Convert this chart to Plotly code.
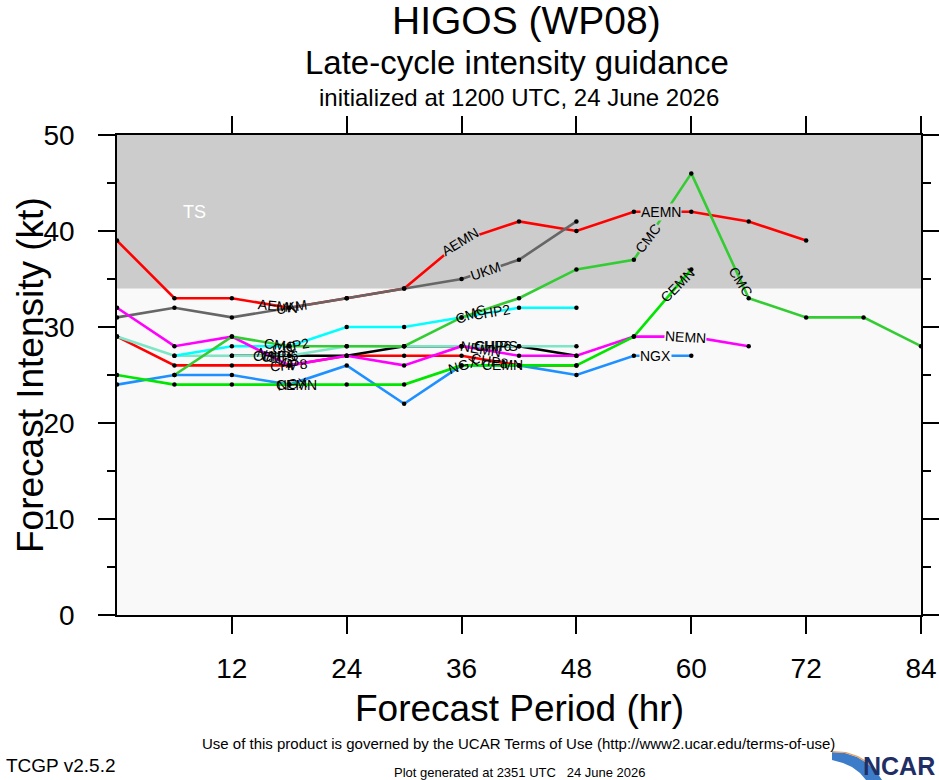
import math
import plotly.graph_objects as go

# ---------------- data ----------------
hours = [0, 6, 12, 18, 24, 30, 36, 42, 48, 54, 60, 66, 72, 78, 84]
N = None
AEMN  = [39, 33, 33, 32, 33, 34, 39, 41, 40, 42, 42, 41, 39, N, N]
UKM   = [31, 32, 31, 32, 33, 34, 35, 37, 41, N, N, N, N, N, N]
CHP8  = [29, 26, 26, 26, 27, 27, 27, 26, 26, N, N, N, N, N, N]
CHIPS = [N, N, 27, 27, 27, 28, 28, 28, 27, N, N, N, N, N, N]
CHP6  = [29, 27, 27, 27, 28, 28, 28, 28, 28, N, N, N, N, N, N]
CHP2  = [N, 27, 28, 28, 30, 30, 31, 32, 32, N, N, N, N, N, N]
NEMN  = [32, 28, 29, 26, 27, 26, 28, 27, 27, 29, 29, 28, N, N, N]
NGX   = [24, 25, 25, 24, 26, 22, 26, 26, 25, 27, 27, N, N, N, N]
CEMN  = [25, 24, 24, 24, 24, 24, 26, 26, 26, 29, 36, N, N, N, N]
CMC   = [N, 25, 29, 28, 28, 28, 31, 33, 36, 37, 46, 33, 31, 31, 28]

series_names = ["AEMN", "UKM", "CHP8", "CHIPS", "CHP6", "CHP2", "NEMN", "NGX", "CEMN", "CMC"]
series_vals = [AEMN, UKM, CHP8, CHIPS, CHP6, CHP2, NEMN, NGX, CEMN, CMC]
series_colors = ["#ff0000", "#666666", "#ff0000", "#000000", "#7de6c6",
                 "#00ffff", "#ff00ff", "#1e90ff", "#00e600", "#33cc33"]

# label placements along the lines (forecast hour, break line under label)
label_hours = {
    "AEMN": [(16.8, False), (35.8, True), (56.8, True)],
    "UKM": [(18.2, False), (38.5, True)],
    "CMC": [(17.0, False), (37.0, False), (55.5, True), (65.2, False)],
    "CEMN": [(18.8, False), (40.3, False), (58.6, False)],
    "NGX": [(18.3, False), (36.2, False), (56.3, True)],
    "NEMN": [(16.7, False), (38.0, False), (59.4, True)],
    "CHP2": [(18.2, False), (39.2, False)],
    "CHP6": [(17.0, False), (39.3, False)],
    "CHIPS": [(16.5, False), (39.6, False)],
    "CHP8": [(18.0, False), (39.0, False)],
}

x_ticks = [12, 24, 36, 48, 60, 72, 84]
y_ticks = [0, 10, 20, 30, 40, 50]
ts_threshold = 34

# ---------------- layout geometry ----------------
W, H = 939, 780
L, R, T, B = 117, 18, 135, 165
XMAX, YMAX = 84, 50
pw, ph = W - L - R, H - T - B
FONT = "Liberation Sans, Arial, Helvetica, sans-serif"


def px(xp):
    return (xp - L) / pw


def py(yp):
    return (H - B - yp) / ph


def interp(vals, h):
    for i in range(len(hours) - 1):
        h0, h1 = hours[i], hours[i + 1]
        if h0 <= h <= h1 and vals[i] is not None and vals[i + 1] is not None:
            return vals[i] + (vals[i + 1] - vals[i]) * (h - h0) / (h1 - h0)
    best = None
    for hh, v in zip(hours, vals):
        if v is not None and (best is None or abs(hh - h) < abs(best[0] - h)):
            best = (hh, v)
    return best[1]


fig = go.Figure()

for name, vals, col in zip(series_names, series_vals, series_colors):
    fig.add_trace(go.Scatter(x=hours, y=vals, mode="lines", name=name,
                             line=dict(color=col, width=2.6), connectgaps=False,
                             hoverinfo="skip", showlegend=False))
for name, vals in zip(series_names, series_vals):
    fig.add_trace(go.Scatter(x=hours, y=vals, mode="markers", name=name,
                             marker=dict(color="black", size=4.5), showlegend=False,
                             hoverinfo="skip"))

fig.add_shape(type="rect", xref="x", yref="y", x0=0, x1=XMAX, y0=ts_threshold, y1=YMAX,
              fillcolor="#cccccc", line=dict(width=0), layer="below")

annotations = []
sx = pw / XMAX
sy = ph / YMAX
for name, vals in zip(series_names, series_vals):
    for h, gap in label_hours[name]:
        yv = interp(vals, h)
        ya = interp(vals, h - 2)
        yb = interp(vals, h + 2)
        ang = -math.degrees(math.atan2((yb - ya) * sy, 4 * sx))
        ann = dict(x=h, y=yv, xref="x", yref="y", text=name, showarrow=False,
                   textangle=ang, font=dict(family=FONT, size=14, color="black"),
                   xanchor="center", yanchor="middle", borderpad=0)
        if gap:
            ann["bgcolor"] = "#cccccc" if yv >= ts_threshold else "#f9f9f9"
        annotations.append(ann)

annotations.append(dict(x=8.1, y=42, xref="x", yref="y", text="TS", showarrow=False,
                        font=dict(family=FONT, size=18, color="white")))

annotations += [
    dict(x=px(526), y=py(20), xref="paper", yref="paper", text="HIGOS (WP08)",
         showarrow=False, font=dict(family=FONT, size=39, color="black"),
         xanchor="center", yanchor="middle"),
    dict(x=px(517), y=py(62), xref="paper", yref="paper", text="Late-cycle intensity guidance",
         showarrow=False, font=dict(family=FONT, size=33, color="black"),
         xanchor="center", yanchor="middle"),
    dict(x=px(519), y=py(98), xref="paper", yref="paper",
         text="initialized at 1200 UTC, 24 June 2026",
         showarrow=False, font=dict(family=FONT, size=24, color="black"),
         xanchor="center", yanchor="middle"),
    dict(x=px(30), y=py(375), xref="paper", yref="paper", text="Forecast Intensity (kt)",
         showarrow=False, textangle=-90, font=dict(family=FONT, size=37, color="black"),
         xanchor="center", yanchor="middle"),
    dict(x=px(519), y=py(708), xref="paper", yref="paper", text="Forecast Period (hr)",
         showarrow=False, font=dict(family=FONT, size=37, color="black"),
         xanchor="center", yanchor="middle"),
    dict(x=px(518), y=py(743), xref="paper", yref="paper",
         text="Use of this product is governed by the UCAR Terms of Use (http://www2.ucar.edu/terms-of-use)",
         showarrow=False, font=dict(family=FONT, size=15, color="black"),
         xanchor="center", yanchor="middle"),
    dict(x=px(4), y=py(765), xref="paper", yref="paper", text="TCGP v2.5.2",
         showarrow=False, font=dict(family=FONT, size=19, color="black"),
         xanchor="left", yanchor="middle"),
    dict(x=px(520), y=py(772), xref="paper", yref="paper",
         text="Plot generated at 2351 UTC &nbsp; 24 June 2026",
         showarrow=False, font=dict(family=FONT, size=13, color="black"),
         xanchor="center", yanchor="middle"),
    dict(x=px(937), y=py(766), xref="paper", yref="paper", text="<b>NCAR</b>",
         showarrow=False, font=dict(family=FONT, size=25, color="#1f2f66"),
         xanchor="right", yanchor="middle"),
]


def path(points):
    s = ""
    for i, (a, b) in enumerate(points):
        s += ("M" if i == 0 else "L") + f"{px(a):.5f},{py(b):.5f} "
    return s + "Z"


swoosh = [(832, 752), (845, 753), (857, 757), (867, 763), (876, 771), (882, 780),
          (866, 780), (860, 773), (852, 767), (843, 763), (832, 760)]
fig.add_shape(type="path", xref="paper", yref="paper", path=path(swoosh),
              fillcolor="#3d7cc9", line=dict(width=0))
fig.add_shape(type="path", xref="paper", yref="paper",
              path=path([(832, 751), (846, 752), (858, 756), (868, 762), (877, 770),
                         (876, 771), (867, 763), (857, 757), (845, 753), (832, 752.5)]),
              fillcolor="#e8a060", line=dict(width=0))

axis_common = dict(showline=True, linecolor="black", linewidth=1.6, mirror="ticks",
                   ticks="outside", ticklen=17, tickwidth=1.6, tickcolor="black",
                   showgrid=False, zeroline=False, automargin=False,
                   tickfont=dict(family=FONT, size=28, color="black"))

fig.update_layout(
    width=W, height=H, autosize=False,
    margin=dict(l=L, r=R, t=T, b=B, autoexpand=False),
    paper_bgcolor="white",
    plot_bgcolor="#f9f9f9",
    showlegend=False,
    annotations=annotations,
    xaxis=dict(range=[0, XMAX], tickvals=x_ticks, ticktext=[str(v) for v in x_ticks],
               ticklabelstandoff=11, **axis_common),
    yaxis=dict(range=[0, YMAX], tickvals=y_ticks, ticktext=[str(v) for v in y_ticks],
               ticklabelstandoff=18,
               minor=dict(tickvals=[5, 15, 25, 35, 45], ticks="outside", ticklen=8,
                          tickwidth=1.6, tickcolor="black", showgrid=False),
               **axis_common),
)

fig.write_html(
    "out.html",
    config={"responsive": False, "displayModeBar": False},
    post_script="document.body.style.margin='0';document.body.style.padding='0';"
                "document.body.style.overflow='hidden';"
                "document.documentElement.style.overflow='hidden';",
)
